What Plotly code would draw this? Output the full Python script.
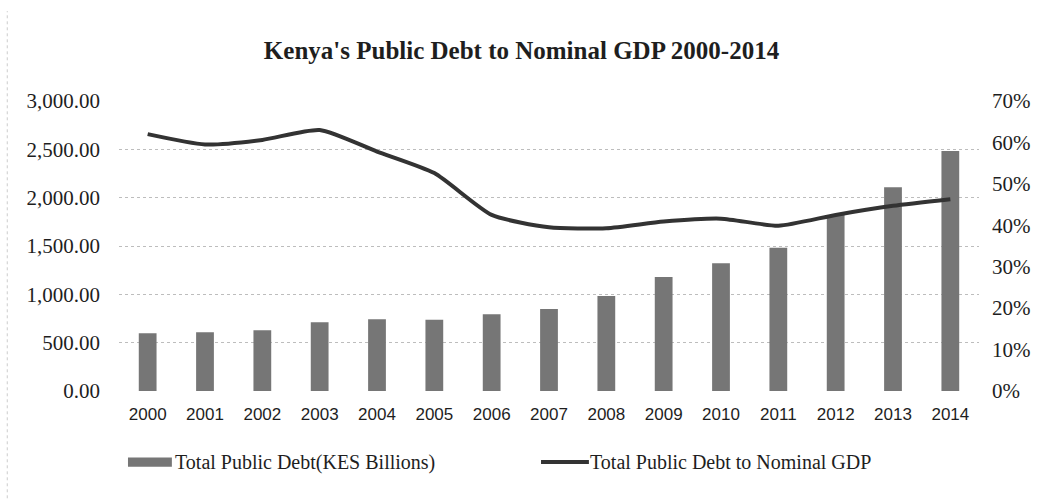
import plotly.graph_objects as go

years = ["2000", "2001", "2002", "2003", "2004", "2005", "2006", "2007",
         "2008", "2009", "2010", "2011", "2012", "2013", "2014"]
total_debt = [597, 607, 628, 711, 742, 738, 795, 848, 983, 1179, 1321, 1483, 1821, 2107, 2483]
debt_to_gdp = [0.620, 0.595, 0.606, 0.630, 0.578, 0.526, 0.425, 0.395, 0.393, 0.409, 0.416,
               0.399, 0.425, 0.447, 0.463]

bar_name = "Total Public Debt(KES Billions)"
line_name = "Total Public Debt to Nominal GDP"

bar_color = "#767676"
line_color = "#333333"
text_color = "#1e1e1e"
serif = "Liberation Serif, Times New Roman, serif"

fig = go.Figure()
fig.add_trace(go.Bar(x=years, y=total_debt, name=bar_name, marker_color=bar_color,
                     marker_line_width=0, yaxis="y", showlegend=False))
fig.add_trace(go.Scatter(x=years, y=debt_to_gdp, name=line_name, mode="lines",
                         line=dict(color=line_color, width=4, shape="spline", smoothing=0.6),
                         yaxis="y2", showlegend=False))

fig.update_layout(
    width=1043, height=499,
    margin=dict(l=119, r=62, t=101, b=108),
    paper_bgcolor="white", plot_bgcolor="white",
    bargap=0.69,
    title=dict(text="<b>Kenya's Public Debt to Nominal GDP 2000-2014</b>",
               x=0.5, xanchor="center", y=0.9, yanchor="middle",
               font=dict(family=serif, size=25, color=text_color)),
    xaxis=dict(type="category", showgrid=False, showline=False, ticks="",
               tickfont=dict(family="Liberation Sans, Arial, sans-serif", size=17, color=text_color),
               ticklabelstandoff=11),
    yaxis=dict(range=[0, 3000], dtick=500, tickformat=",.2f",
               showgrid=True, gridcolor="#bdbdbd", griddash="dot", gridwidth=1,
               zeroline=False, showline=False, ticks="",
               tickfont=dict(family=serif, size=21, color=text_color),
               ticklabelstandoff=18),
    yaxis2=dict(range=[0, 0.7], dtick=0.1, tickformat=".0%", overlaying="y", side="right",
                showgrid=False, zeroline=False, showline=False, ticks="",
                tickfont=dict(family=serif, size=21, color=text_color),
                ticklabelstandoff=12),
)

# custom legend (swatches + labels) below the plot
leg_y = -0.245
fig.add_shape(type="rect", xref="paper", yref="paper",
              x0=(128 - 119) / 862, x1=(172 - 119) / 862, y0=leg_y - 0.016, y1=leg_y + 0.016,
              fillcolor=bar_color, line_width=0)
fig.add_annotation(text=bar_name, xref="paper", yref="paper",
                   x=(173 - 119) / 862, y=leg_y, xanchor="left", yanchor="middle",
                   showarrow=False, font=dict(family=serif, size=20, color=text_color))
fig.add_shape(type="line", xref="paper", yref="paper",
              x0=(542 - 119) / 862, x1=(590 - 119) / 862, y0=leg_y, y1=leg_y,
              line=dict(color=line_color, width=4))
fig.add_annotation(text=line_name, xref="paper", yref="paper",
                   x=(589 - 119) / 862, y=leg_y, xanchor="left", yanchor="middle",
                   showarrow=False, font=dict(family=serif, size=20, color=text_color))

# faint chart border on the left edge
fig.add_shape(type="line", xref="paper", yref="paper",
              x0=-112 / 862, x1=-112 / 862, y0=-0.37, y1=1.31,
              line=dict(color="#cccccc", width=1, dash="dot"))

fig.write_html("out.html")
